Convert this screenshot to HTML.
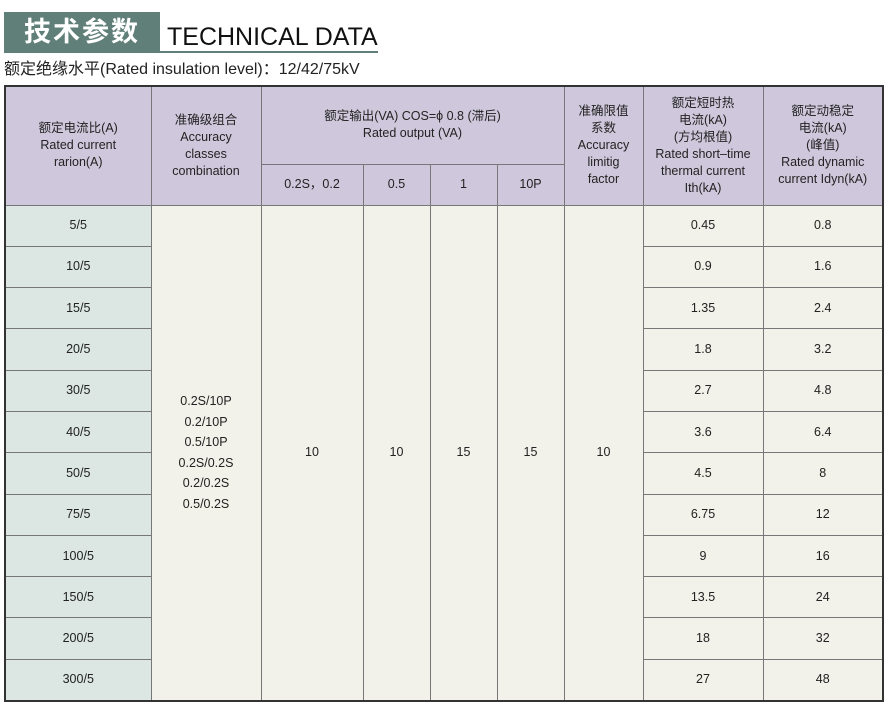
<!DOCTYPE html>
<html><head><meta charset="utf-8"><style>
body{margin:0;width:890px;height:708px;background:#fff;position:relative;font-family:"Liberation Sans","Noto Sans CJK SC",sans-serif;color:#222;overflow:hidden}
.tbox{position:absolute;left:4px;top:12px;width:156px;height:41px;background:#5f7f78;color:#fff;font-size:27px;font-weight:bold;line-height:41px;text-align:center;letter-spacing:2px}
.tline{position:absolute;left:160px;top:51px;width:218px;height:2px;background:#5f7f78}
.ten{position:absolute;left:167px;top:22px;font-size:25px;color:#111;line-height:30px}
.sub{position:absolute;left:4px;top:60px;font-size:16px;color:#222;line-height:20px}
table{position:absolute;left:4px;top:85px;border-collapse:collapse;table-layout:fixed;border:2px solid #333}
td{border:1px solid #777;text-align:center;vertical-align:middle;font-size:12.5px;line-height:17px;padding:0}
.h{background:#cfc8dc}
.c1{background:#dce6e3}
.b{background:#f2f2ea}
tr.r td{height:40.3px}
</style></head><body>
<div class="tbox">技术参数</div><div class="tline"></div>
<div class="ten">TECHNICAL DATA</div>
<div class="sub">额定绝缘水平(Rated insulation level)：12/42/75kV</div>
<table>
<colgroup><col style="width:146px"><col style="width:110px"><col style="width:102px"><col style="width:67px"><col style="width:67px"><col style="width:67px"><col style="width:79px"><col style="width:120px"><col style="width:120px"></colgroup>
<tr style="height:78px"><td class="h" rowspan="2">额定电流比(A)<br>Rated current<br>rarion(A)</td><td class="h" rowspan="2">准确级组合<br>Accuracy<br>classes<br>combination</td><td class="h" colspan="4">额定输出(VA) COS=ϕ 0.8 (滞后)<br>Rated output (VA)</td><td class="h" rowspan="2">准确限值<br>系数<br>Accuracy<br>limitig<br>factor</td><td class="h" rowspan="2">额定短时热<br>电流(kA)<br>(方均根值)<br>Rated short–time<br>thermal current<br>Ith(kA)</td><td class="h" rowspan="2">额定动稳定<br>电流(kA)<br>(峰值)<br>Rated dynamic<br>current Idyn(kA)</td></tr>
<tr style="height:41px"><td class="h">0.2S，0.2</td><td class="h">0.5</td><td class="h">1</td><td class="h">10P</td></tr>
<tr class="r"><td class="c1">5/5</td><td class="b" rowspan="12" style="line-height:20.5px">0.2S/10P<br>0.2/10P<br>0.5/10P<br>0.2S/0.2S<br>0.2/0.2S<br>0.5/0.2S</td><td class="b" rowspan="12">10</td><td class="b" rowspan="12">10</td><td class="b" rowspan="12">15</td><td class="b" rowspan="12">15</td><td class="b" rowspan="12">10</td><td class="b">0.45</td><td class="b">0.8</td></tr>
<tr class="r"><td class="c1">10/5</td><td class="b">0.9</td><td class="b">1.6</td></tr>
<tr class="r"><td class="c1">15/5</td><td class="b">1.35</td><td class="b">2.4</td></tr>
<tr class="r"><td class="c1">20/5</td><td class="b">1.8</td><td class="b">3.2</td></tr>
<tr class="r"><td class="c1">30/5</td><td class="b">2.7</td><td class="b">4.8</td></tr>
<tr class="r"><td class="c1">40/5</td><td class="b">3.6</td><td class="b">6.4</td></tr>
<tr class="r"><td class="c1">50/5</td><td class="b">4.5</td><td class="b">8</td></tr>
<tr class="r"><td class="c1">75/5</td><td class="b">6.75</td><td class="b">12</td></tr>
<tr class="r"><td class="c1">100/5</td><td class="b">9</td><td class="b">16</td></tr>
<tr class="r"><td class="c1">150/5</td><td class="b">13.5</td><td class="b">24</td></tr>
<tr class="r"><td class="c1">200/5</td><td class="b">18</td><td class="b">32</td></tr>
<tr class="r"><td class="c1">300/5</td><td class="b">27</td><td class="b">48</td></tr>
</table>
</body></html>
